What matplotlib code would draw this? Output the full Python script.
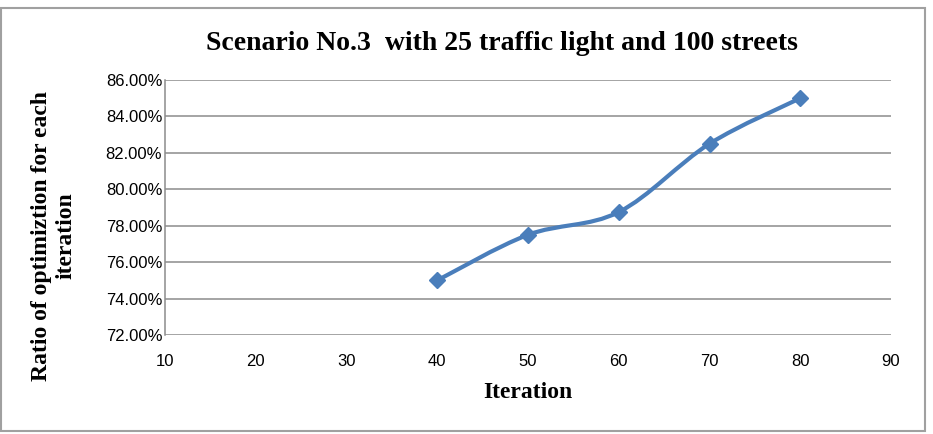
import matplotlib
matplotlib.use("Agg")
import matplotlib.pyplot as plt
from matplotlib.path import Path
from matplotlib.patches import PathPatch, Rectangle
from matplotlib.ticker import PercentFormatter

# data
iterations = [40, 50, 60, 70, 80]
ratio = [75.0, 77.5, 78.75, 82.5, 85.0]
x_ticks = [10, 20, 30, 40, 50, 60, 70, 80, 90]
y_ticks = [72, 74, 76, 78, 80, 82, 84, 86]

title = "Scenario No.3  with 25 traffic light and 100 streets"
xlabel = "Iteration"
ylabel = "Ratio of optimiztion for each\niteration"

blue = "#4A7EBB"
grid_col = "#8C8C8C"
serif = ["Liberation Serif", "DejaVu Serif"]
sans = ["Liberation Sans", "DejaVu Sans"]

fig = plt.figure(figsize=(9.33, 4.34), dpi=100)
ax = fig.add_axes([165 / 933, 1 - 335 / 434, (891 - 165) / 933, (335 - 80) / 434])

# smoothed line like Excel (bezier through the points)
pts = list(zip(iterations, ratio))
verts = [pts[0]]
codes = [Path.MOVETO]
n = len(pts)
for i in range(n - 1):
    p0 = pts[max(i - 1, 0)]
    p1 = pts[i]
    p2 = pts[i + 1]
    p3 = pts[min(i + 2, n - 1)]
    c1 = (p1[0] + (p2[0] - p0[0]) / 6, p1[1] + (p2[1] - p0[1]) / 6)
    c2 = (p2[0] - (p3[0] - p1[0]) / 6, p2[1] - (p3[1] - p1[1]) / 6)
    verts += [c1, c2, p2]
    codes += [Path.CURVE4] * 3
ax.add_patch(PathPatch(Path(verts, codes), facecolor="none", edgecolor=blue,
                       lw=3.0, capstyle="round", joinstyle="round", zorder=3))
ax.plot(iterations, ratio, linestyle="none", marker="D", markersize=8.5,
        color=blue, zorder=4)

ax.set_xlim(10, 90)
ax.set_ylim(72, 86)
ax.set_xticks(x_ticks)
ax.set_yticks(y_ticks)
ax.yaxis.set_major_formatter(PercentFormatter(decimals=2))
ax.grid(axis="y", color=grid_col, lw=1.1)
ax.set_axisbelow(True)
ax.tick_params(length=0, labelsize=12, pad=2, colors="black")
ax.tick_params(axis="x", pad=14)
for lab in ax.get_xticklabels() + ax.get_yticklabels():
    lab.set_family(sans)
for s in ["top", "right", "bottom"]:
    ax.spines[s].set_visible(False)
ax.spines["left"].set_color(grid_col)
ax.spines["left"].set_linewidth(1.1)

fig.text(502 / 933, 1 - 44 / 434, title, ha="center", va="center",
         fontsize=20, fontweight="bold", family=serif)
fig.text(528 / 933, 1 - 393 / 434, xlabel, ha="center", va="center",
         fontsize=17, fontweight="bold", family=serif)
fig.text(54 / 933, 1 - 236 / 434, ylabel, ha="center", va="center",
         rotation=90, fontsize=17, fontweight="bold", family=serif,
         linespacing=1.2)

fig.patches.append(Rectangle((1 / 933, 1 - 431 / 434), 924 / 933, 423 / 434,
                             transform=fig.transFigure, fill=False,
                             edgecolor="#A0A0A0", lw=1.5))

fig.savefig("out.png", dpi=100)
